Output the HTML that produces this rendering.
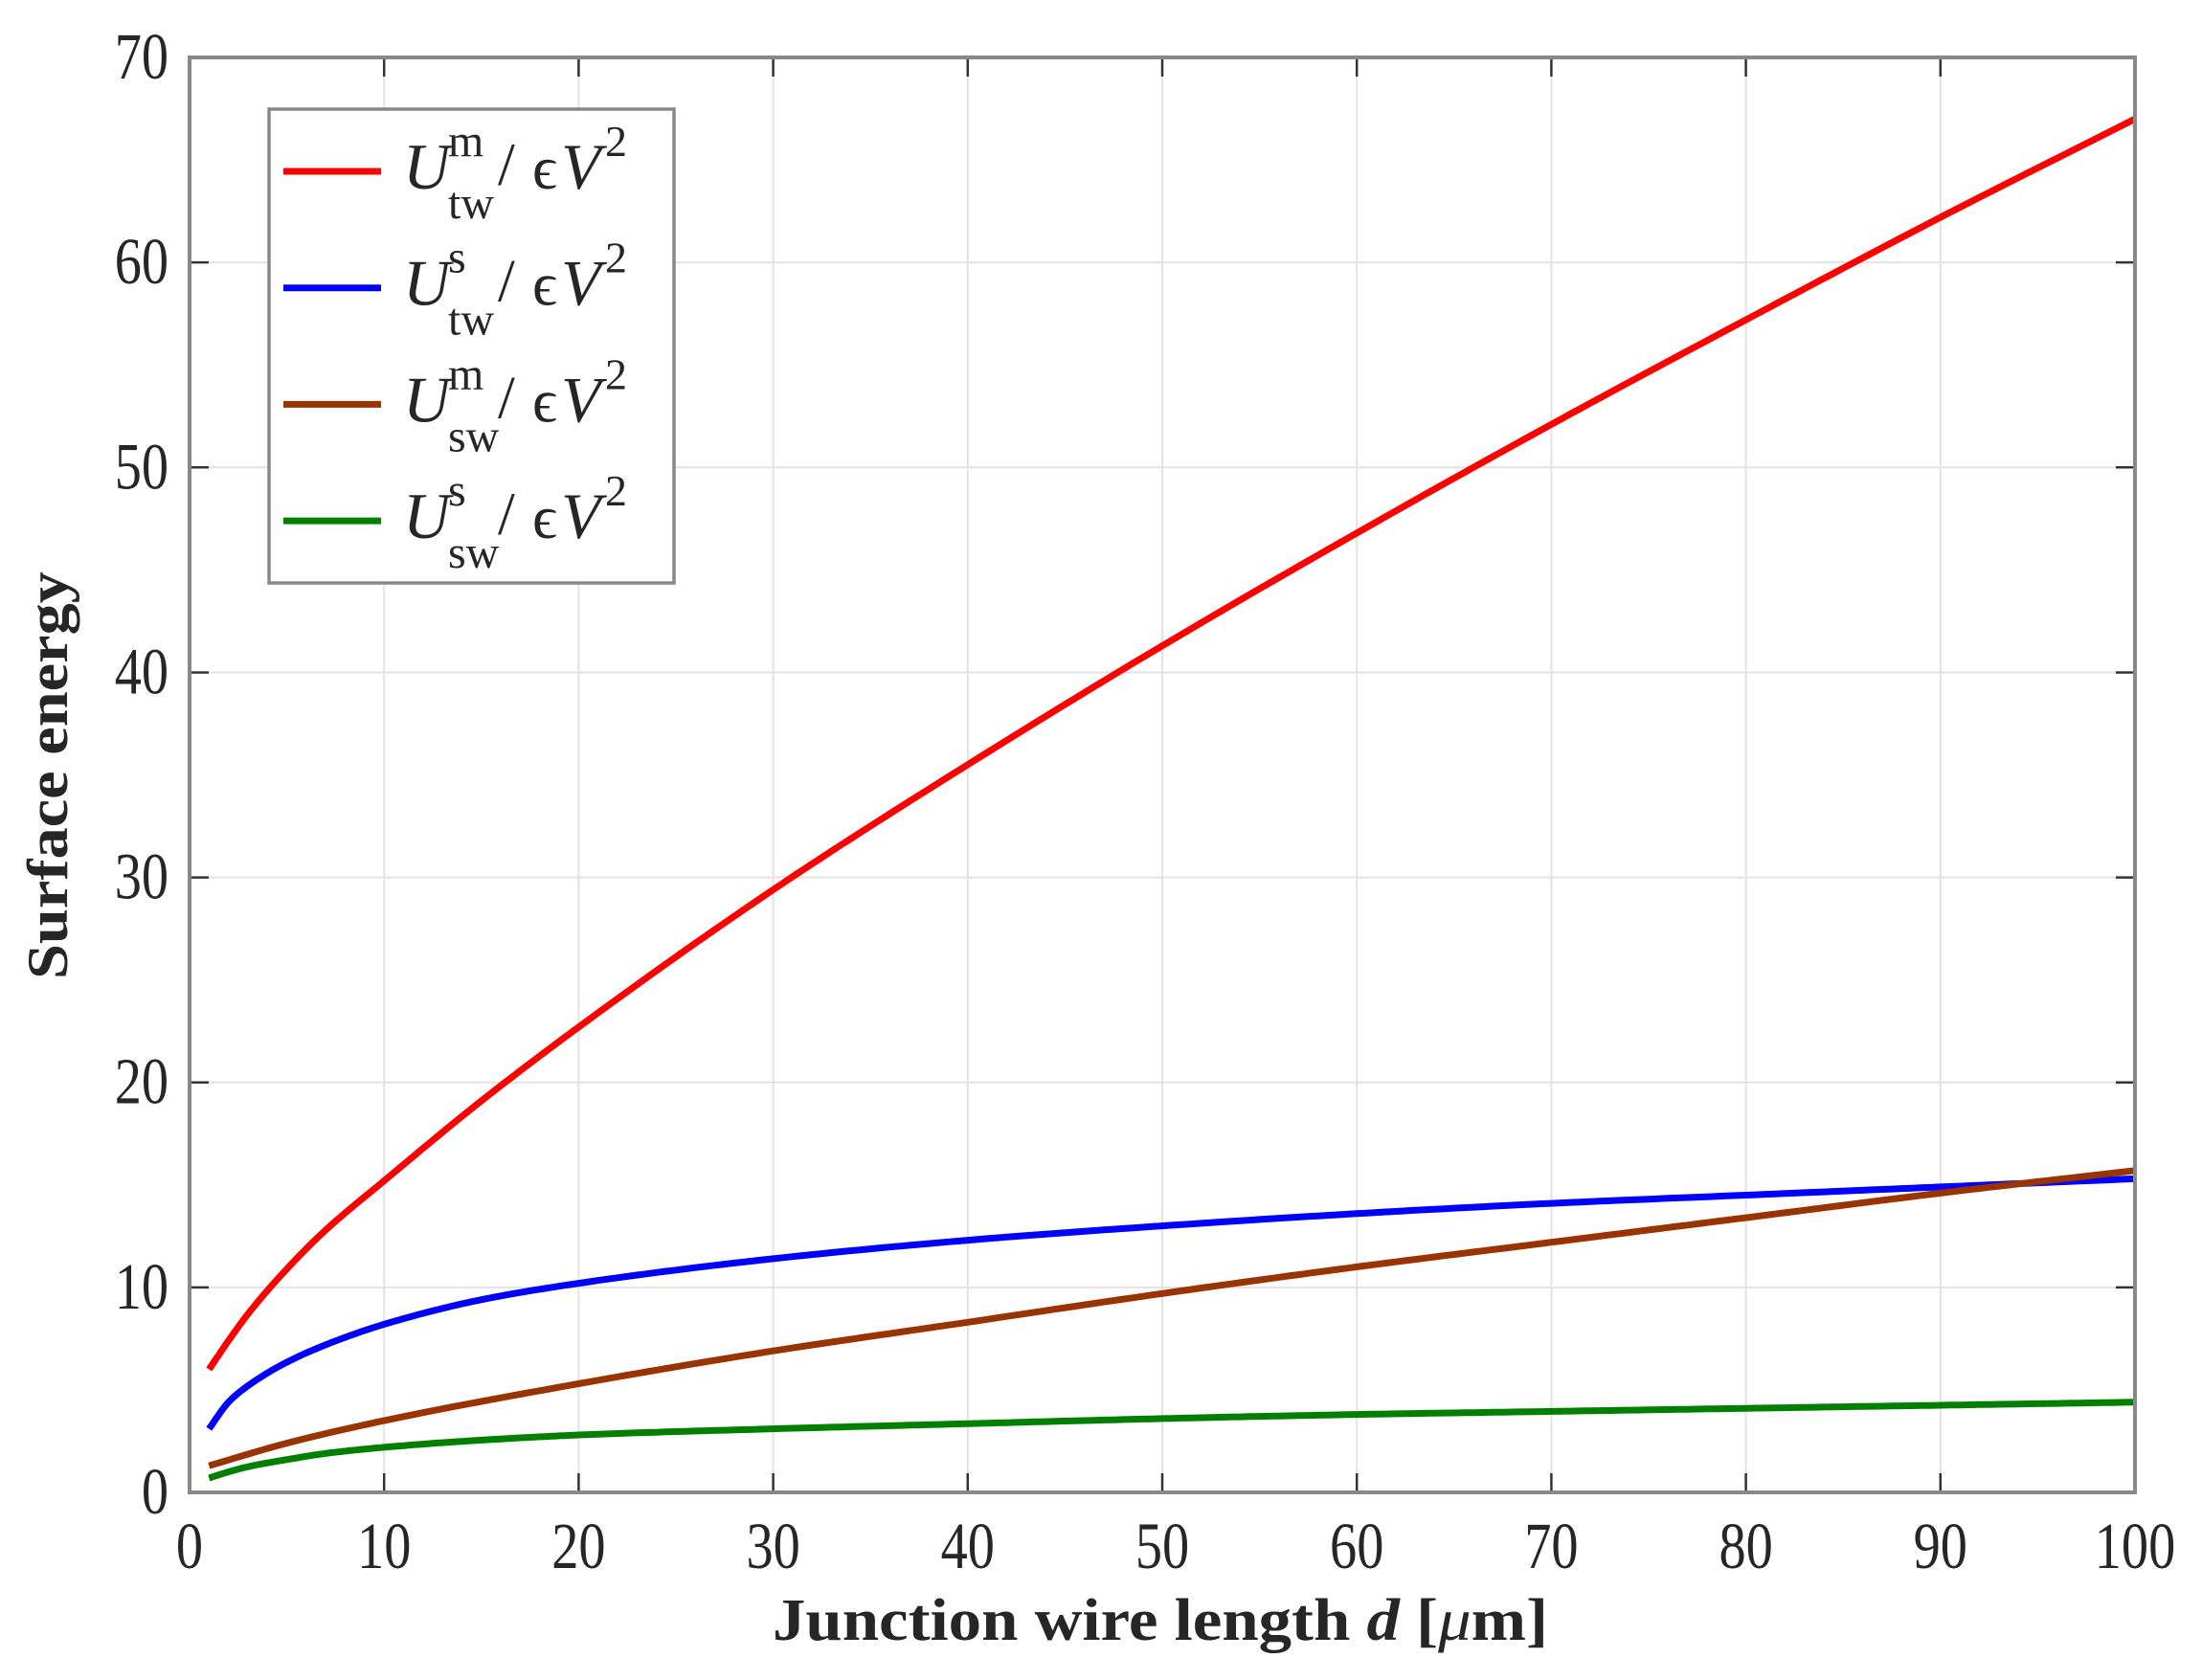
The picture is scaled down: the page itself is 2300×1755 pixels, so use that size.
<!DOCTYPE html>
<html><head><meta charset="utf-8"><style>
html,body{margin:0;padding:0;background:#fff;}
svg{display:block;}
</style></head><body>
<svg id="s" width="2300" height="1755" viewBox="0 0 2300 1755" xmlns="http://www.w3.org/2000/svg" font-family="'Liberation Serif', serif">
<g id="grid" stroke="#e3e3e3" stroke-width="2"></g>
<g id="ticks" stroke="#333" stroke-width="2.5"></g>
<g id="curves" fill="none" stroke-width="7" stroke-linejoin="round" stroke-linecap="butt"></g>
<rect x="198" y="60" width="2032" height="1499" fill="none" stroke="#888" stroke-width="4"/>
<g id="labels" fill="#262626" font-size="64"></g>
<text x="1212" y="1713" font-size="62" font-weight="bold" fill="#262626" text-anchor="middle" textLength="810" lengthAdjust="spacingAndGlyphs">Junction wire length  <tspan font-style="italic">d</tspan> [<tspan font-style="italic" font-weight="normal">μ</tspan>m]</text>
<text transform="translate(70,810) rotate(-90)" font-size="60" font-weight="bold" fill="#262626" text-anchor="middle" textLength="426" lengthAdjust="spacingAndGlyphs">Surface energy</text>
<rect x="281" y="114" width="423" height="495" fill="#fff" stroke="#888" stroke-width="3.5"/>
<g id="leg"></g>
</svg>
<script>
var NS="http://www.w3.org/2000/svg";
function X(d){return 198+d*20.32;}
function Y(v){return 1559-v*21.414;}
function el(t,a,p,txt){var e=document.createElementNS(NS,t);for(var k in a)e.setAttribute(k,a[k]);if(txt!=null)e.textContent=txt;document.getElementById(p).appendChild(e);return e;}
for(var i=1;i<10;i++){var x=X(i*10);el('line',{x1:x,y1:60,x2:x,y2:1559},'grid');el('line',{x1:x,y1:1559,x2:x,y2:1539},'ticks');el('line',{x1:x,y1:60,x2:x,y2:80},'ticks');}
for(var j=1;j<7;j++){var y=Y(j*10);el('line',{x1:198,y1:y,x2:2230,y2:y},'grid');el('line',{x1:198,y1:y,x2:218,y2:y},'ticks');el('line',{x1:2230,y1:y,x2:2210,y2:y},'ticks');}
function lab(x,y,a,s){var t=el('text',{transform:'translate('+x+','+y+') scale(0.88,1.08)','text-anchor':a},'labels',s);}
for(var i=0;i<=10;i++){lab(X(i*10),1638,'middle',String(i*10));}
for(var j=0;j<=7;j++){lab(176,Y(j*10)+22,'end',String(j*10));}
var S=[
["#ff0000",[[1,6],[2,7.4],[3,8.7],[5,10.9],[7,12.8],[10,15.2],[15,19.1],[20,22.7],[30,29.4],[40,35.5],[50,41.3],[60,46.8],[70,52.1],[80,57.2],[90,62.2],[100,67]]],
["#0000ff",[[1,3.1],[2,4.4],[3,5.2],[5,6.35],[7,7.2],[10,8.2],[15,9.4],[20,10.2],[30,11.4],[40,12.3],[50,13],[60,13.6],[70,14.1],[80,14.5],[90,14.9],[100,15.3]]],
["#993300",[[1,1.3],[5,2.4],[10,3.5],[20,5.3],[30,6.9],[40,8.3],[50,9.7],[60,11],[70,12.2],[80,13.4],[90,14.6],[100,15.7]]],
["#007f00",[[1,0.7],[2,1.0],[3,1.25],[5,1.6],[7,1.9],[10,2.2],[15,2.55],[20,2.8],[30,3.1],[40,3.35],[50,3.6],[60,3.8],[70,3.95],[80,4.1],[90,4.25],[100,4.4]]]];
S.forEach(function(s){
 var p=s[1],n=p.length,d=[],m=[];
 for(var k=0;k<n-1;k++)d.push((p[k+1][1]-p[k][1])/(p[k+1][0]-p[k][0]));
 m[0]=d[0];m[n-1]=d[n-2];
 for(var k=1;k<n-1;k++){var h0=p[k][0]-p[k-1][0],h1=p[k+1][0]-p[k][0];
  m[k]=(d[k-1]*d[k]<=0)?0:3*(h0+h1)/((2*h1+h0)/d[k-1]+(h1+2*h0)/d[k]);}
 var pts=[];
 for(var k=0;k<n-1;k++){var h=p[k+1][0]-p[k][0];
  for(var t=0;t<1;t+=0.05){var t2=t*t,t3=t2*t;
   var yy=(2*t3-3*t2+1)*p[k][1]+(t3-2*t2+t)*h*m[k]+(-2*t3+3*t2)*p[k+1][1]+(t3-t2)*h*m[k+1];
   pts.push(X(p[k][0]+t*h).toFixed(1)+","+Y(yy).toFixed(1));}}
 pts.push(X(p[n-1][0])+","+Y(p[n-1][1]));
 el('polyline',{points:pts.join(" "),stroke:s[0]},'curves');
});
var L=[["#ff0000","m","tw"],["#0000ff","s","tw"],["#993300","m","sw"],["#007f00","s","sw"]];
L.forEach(function(r,i){
 var y=179+i*121.7;
 el('line',{x1:296,y1:y,x2:398,y2:y,stroke:r[0],'stroke-width':7},'leg');
 el('text',{x:421,y:y+18,'font-size':68,'font-style':'italic',fill:'#262626'},'leg','U');
 el('text',{x:468,y:y-16,'font-size':48,fill:'#262626'},'leg',r[1]);
 el('text',{x:468,y:y+49,'font-size':48,fill:'#262626'},'leg',r[2]);
 el('text',{x:520,y:y+14,'font-size':64,fill:'#262626'},'leg','/');
 el('text',{x:556,y:y+18,'font-size':64,fill:'#262626'},'leg','\u03f5');
 el('text',{x:586,y:y+18,'font-size':68,'font-style':'italic',fill:'#262626'},'leg','V');
 el('text',{x:632,y:y-16,'font-size':46,fill:'#262626'},'leg','2');
});
</script>
</body></html>
